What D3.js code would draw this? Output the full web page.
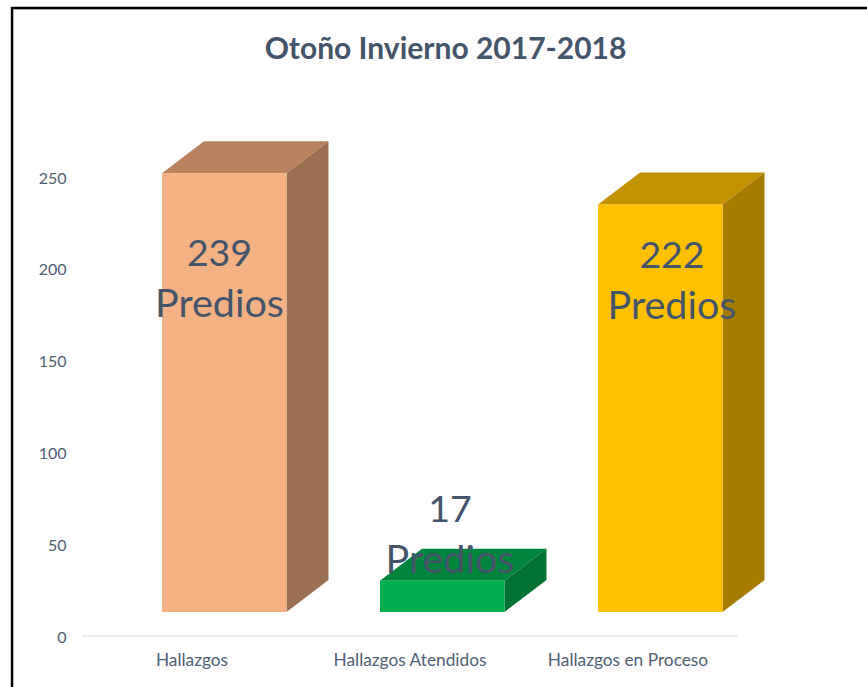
<!DOCTYPE html>
<html>
<head>
<meta charset="utf-8">
<script src="https://cdn.jsdelivr.net/npm/d3@7"></script>
<style>
  html, body { margin: 0; background: #fff; }
  svg { display: block; }
  text { font-family: Lato, "Open Sans", sans-serif; fill: #44546a; }
  .axis path, .axis line { display: none; }
  .axis text { fill: #4f5e75; }
</style>
</head>
<body>
<svg id="chart"></svg>
<script>
'use strict';

var categories = ['Hallazgos', 'Hallazgos Atendidos', 'Hallazgos en Proceso']
var values = [239, 17, 222]
var frontColors = ['#f4b183', '#00b050', '#ffc000']
var topColors = ['#b98360', '#00853c', '#c29200']
var sideColors = ['#9b7050', '#007232', '#a67c00']
var yTicks = [0, 50, 100, 150, 200, 250]
var chartTitle = 'Otoño Invierno 2017-2018'
var labelUnit = 'Predios'

// hand placed labels, same as the original
var labelDx = [27.5, 40, 44]
var labelBaseline = [266, 522, 267.5]

var width = 867
,   height = 687
,   floorLift = 24   // the boxes float above the axis line
,   barWidth = 124.5
,   depthX = 42
,   depthY = 32

var svg = d3.select('#chart').attr('width', width).attr('height', height)

var x = d3.scaleBand().domain(categories).range([83, 737])
,   y = d3.scaleLinear().domain([0, 250]).range([636, 177])

function barLeft(d) { return x(d) + x.bandwidth() / 2 - 30 }
function barTop(i) { return y(values[i]) - floorLift }
function barBase() { return y(0) - floorLift }

// frame
svg.append('path')
  .attr('d', 'M13.5,687V9.5H867')
  .attr('fill', 'none')
  .attr('stroke', '#dde3ea')
  .attr('stroke-width', 1)
svg.append('path')
  .attr('d', 'M12,687V8H867')
  .attr('fill', 'none')
  .attr('stroke', '#000')
  .attr('stroke-width', 2.4)

svg.append('text')
  .attr('x', 445.5)
  .attr('y', 58.5)
  .attr('text-anchor', 'middle')
  .style('font-size', '30px')
  .style('font-weight', 700)
  .text(chartTitle)

// axes
svg.append('line')
  .attr('x1', 82).attr('x2', 738)
  .attr('y1', y(0)).attr('y2', y(0))
  .attr('stroke', '#e1e4ed')
  .attr('stroke-width', 1.5)

svg.append('g')
  .attr('class', 'axis')
  .attr('transform', 'translate(66.5,1)')
  .call(d3.axisLeft(y).tickValues(yTicks).tickSize(0).tickPadding(0))
  .call((g) => g.selectAll('text').style('font-size', '16px'))
  .call((g) => g.select('.domain').remove())

svg.append('g')
  .attr('class', 'axis')
  .attr('transform', 'translate(0,' + y(0) + ')')
  .call(d3.axisBottom(x).tickSize(0).tickPadding(18))
  .call((g) => g.selectAll('text').style('font-size', '17.3px'))
  .call((g) => g.select('.domain').remove())

// boxes
var bars = svg.selectAll('.bar')
  .data(categories)
  .enter().append('g')
  .attr('class', 'bar')

bars.append('polygon')
  .attr('fill', (d, i) => topColors[i])
  .attr('points', (d, i) => {
    var l = barLeft(d), t = barTop(i), r = l + barWidth
    return [[l, t], [l + depthX, t - depthY], [r + depthX, t - depthY], [r, t]].join(' ')
  })

bars.append('polygon')
  .attr('fill', (d, i) => sideColors[i])
  .attr('points', (d, i) => {
    var r = barLeft(d) + barWidth, t = barTop(i), b = barBase()
    return [[r, t], [r + depthX, t - depthY], [r + depthX, b - depthY], [r, b]].join(' ')
  })

bars.append('rect')
  .attr('fill', (d, i) => frontColors[i])
  .attr('x', (d) => barLeft(d))
  .attr('y', (d, i) => barTop(i))
  .attr('width', barWidth)
  .attr('height', (d, i) => barBase() - barTop(i))

// data labels sit on top of all the boxes
var labels = svg.selectAll('.label')
  .data(categories)
  .enter().append('text')
  .attr('class', 'label')
  .attr('text-anchor', 'middle')
  .attr('transform', (d, i) => 'translate(' + (barLeft(d) + labelDx[i] + 30) + ',' + labelBaseline[i] + ')')

labels.append('tspan')
  .attr('x', 0)
  .attr('y', 0)
  .style('font-size', '37.5px')
  .text((d, i) => values[i])

labels.append('tspan')
  .attr('x', 0)
  .attr('y', 51)
  .style('font-size', '39.5px')
  .text(labelUnit)
</script>
</body>
</html>
